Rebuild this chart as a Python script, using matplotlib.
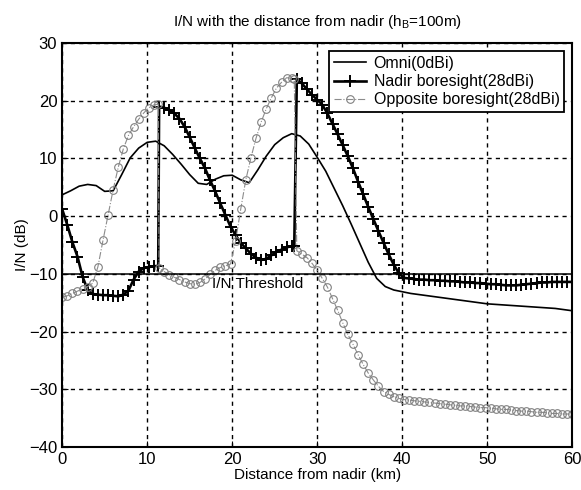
import numpy as np
import matplotlib
matplotlib.use("Agg")
import matplotlib.pyplot as plt

plt.rcParams['font.family'] = ['Liberation Sans', 'DejaVu Sans']

# distance samples (km) for the antenna curves, with the two switch points
dist = np.sort(np.r_[np.arange(0, 60.01, 0.6), 11.3, 27.3])

nadir = [
    1.2, -1.5, -4.5, -7.0, -10.5, -12.8, -13.5, -13.6, -13.7, -13.7,
    -13.8, -13.9, -13.6, -12.9, -11.0, -9.6, -9.0, -8.8, -8.7, -8.6,
    19.0, 18.8, 18.4, 17.8, 16.9, 15.5, 13.7, 11.8, 10.0, 8.3,
    6.2, 4.3, 2.2, 0.2, -1.8, -3.3, -4.6, -5.6, -6.5, -7.2,
    -7.6, -7.4, -6.8, -6.2, -5.8, -5.4, -5.2, -5.1, 23.8, 23.0,
    22.0, 21.0, 20.2, 19.3, 17.8, 16.0, 14.2, 12.3, 10.4, 8.3,
    6.0, 3.8, 1.6, -0.5, -2.6, -4.6, -6.6, -8.4, -9.9, -10.7,
    -10.8, -10.9, -11.0, -11.0, -11.1, -11.1, -11.2, -11.2, -11.3, -11.3,
    -11.4, -11.5, -11.5, -11.6, -11.6, -11.7, -11.8, -11.8, -11.9, -12.0,
    -12.0, -12.0, -11.9, -11.8, -11.7, -11.6, -11.5, -11.5, -11.4, -11.4,
    -11.4, -11.4, -11.4,
]

opposite = [
    -14.1, -13.8, -13.4, -13.0, -12.6, -12.2, -11.6, -8.8, -4.2, 0.2,
    4.6, 8.5, 11.7, 14.0, 15.5, 16.8, 17.9, 18.8, 19.3, 19.4,
    -9.0, -9.6, -10.2, -10.6, -11.0, -11.4, -11.7, -11.8, -11.5, -10.9,
    -10.1, -9.4, -8.9, -8.6, -8.3, -4.3, 1.2, 6.3, 10.1, 13.5,
    16.3, 18.6, 20.5, 22.2, 23.2, 24.0, 23.9, 23.7, -6.0, -6.6,
    -7.2, -8.2, -9.4, -10.8, -12.3, -14.3, -16.3, -18.5, -20.5, -22.2,
    -24.0, -25.7, -27.2, -28.4, -29.5, -30.4, -30.9, -31.3, -31.6, -31.8,
    -31.9, -32.0, -32.1, -32.2, -32.3, -32.4, -32.5, -32.6, -32.7, -32.8,
    -32.9, -32.9, -33.0, -33.1, -33.2, -33.2, -33.3, -33.4, -33.5, -33.5,
    -33.6, -33.7, -33.8, -33.8, -33.9, -34.0, -34.0, -34.1, -34.2, -34.2,
    -34.3, -34.3, -34.3,
]

omni_dist = np.arange(0, 61, 1)
omni = [
    3.7, 4.4, 5.2, 5.5, 5.3, 4.3, 4.4, 7.2, 10.1, 11.8,
    12.8, 13.0, 12.2, 10.7, 9.0, 7.2, 5.7, 5.5, 6.4, 7.0,
    7.1, 6.3, 5.8, 8.0, 10.4, 12.4, 13.6, 14.3, 13.9, 12.5,
    10.2, 7.8, 4.8, 1.8, -1.4, -4.7, -8.0, -10.8, -12.2, -12.8,
    -13.1, -13.4, -13.6, -13.8, -14.0, -14.2, -14.4, -14.6, -14.8, -15.0,
    -15.2, -15.3, -15.4, -15.5, -15.6, -15.7, -15.8, -15.9, -16.0, -16.2,
    -16.4,
]

threshold = -10

fig = plt.figure(figsize=(5.81, 4.90), dpi=100)
ax = fig.add_axes([0.107, 0.088, 0.878, 0.824])

ax.plot(omni_dist, omni, color='black', lw=1.2, label='Omni(0dBi)')
ax.plot(dist, nadir, color='black', lw=1.9, marker='+', ms=9, mew=1.4,
        label='Nadir boresight(28dBi)')
ax.plot(dist, opposite, color='0.55', lw=0.8, ls='-.', marker='o', ms=5.5,
        mfc='none', mec='0.5', mew=0.8, label='Opposite boresight(28dBi)')

ax.axhline(threshold, color='black', lw=1.1)
ax.text(17.6, threshold - 0.5, 'I/N Threshold', fontsize=11, va='top', ha='left')

ax.set_xlim(0, 60)
ax.set_ylim(-40, 30)
ax.set_xticks(range(0, 61, 10))
ax.set_yticks(range(-40, 31, 10))
ax.grid(True, color='black', ls=(0, (3, 3)), lw=1.0)
ax.tick_params(direction='in', labelsize=12, length=4)
for s in ax.spines.values():
    s.set_linewidth(1.5)

ax.set_xlabel('Distance from nadir (km)', fontsize=11, labelpad=1)
ax.set_ylabel('I/N (dB)', fontsize=11, labelpad=0)
ax.set_title('I/N with the distance from nadir (h$_\\mathregular{B}$=100m)',
             fontsize=11, pad=12)

leg = ax.legend(loc='upper right', fontsize=11.5, handlelength=2.0,
                fancybox=False, framealpha=1, edgecolor='black',
                borderaxespad=0.5, borderpad=0.3, labelspacing=0.2,
                handletextpad=0.5)
leg.get_frame().set_linewidth(1.3)

fig.savefig('out.png', dpi=100)
